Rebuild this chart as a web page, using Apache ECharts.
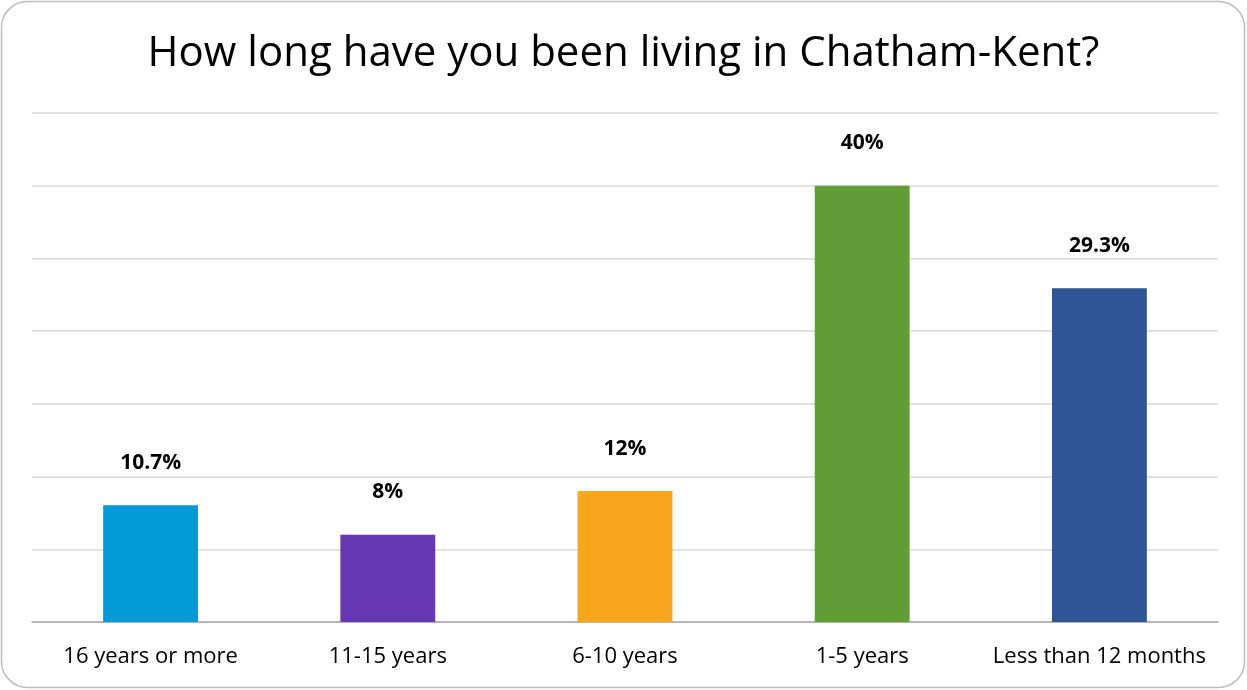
<!DOCTYPE html>
<html>
<head>
<meta charset="utf-8">
<script src="https://cdn.jsdelivr.net/npm/echarts@6/dist/echarts.min.js"></script>
<style>
html,body{margin:0;padding:0;background:#fff;}
#chart{width:1247px;height:690px;}
</style>
</head>
<body>
<div id="chart"></div>
<script>
const categories = ['16 years or more', '11-15 years', '6-10 years', '1-5 years', 'Less than 12 months'];
// bar heights as drawn in the picture
const values = [10.7, 8, 12, 40, 30.6];
// data-label texts as printed in the picture
const labels = ['10.7%', '8%', '12%', '40%', '29.3%'];
const colors = ['#0299D8', '#6638B6', '#F8A61C', '#629C35', '#2F5597'];
const titleText = 'How long have you been living in Chatham-Kent?';

const chart = echarts.init(document.getElementById('chart'));
chart.setOption({
  animation: false,
  graphic: [{
    type: 'rect',
    shape: { x: 1.5, y: 1.5, width: 1243, height: 686, r: 26 },
    style: { fill: 'none', stroke: '#BDBDBD', lineWidth: 1.5 },
    silent: true
  }],
  title: {
    text: titleText,
    left: 'center',
    top: 28,
    textStyle: { fontFamily: 'Open Sans', fontSize: 42, fontWeight: 'normal', color: '#000' }
  },
  grid: { left: 32, right: 29, top: 113, bottom: 68 },
  xAxis: {
    type: 'category',
    data: categories,
    axisLine: { lineStyle: { color: '#A6A6A6', width: 1.5 } },
    axisTick: { show: false },
    axisLabel: { fontFamily: 'Open Sans', fontSize: 22, color: '#000', margin: 24, interval: 0 }
  },
  yAxis: {
    type: 'value',
    min: 0,
    max: 280 / 6,
    interval: 40 / 6,
    axisLabel: { show: false },
    axisLine: { show: false },
    axisTick: { show: false },
    splitLine: { lineStyle: { color: '#D9D9D9', width: 1.5 } }
  },
  series: [{
    type: 'bar',
    barWidth: '40%',
    data: values.map((v, i) => ({ value: v, itemStyle: { color: colors[i] } })),
    label: {
      show: true,
      position: 'top',
      distance: 32,
      formatter: p => labels[p.dataIndex],
      fontFamily: 'Open Sans',
      fontSize: 21,
      fontWeight: 'bold',
      color: '#000'
    }
  }]
});
</script>
</body>
</html>
